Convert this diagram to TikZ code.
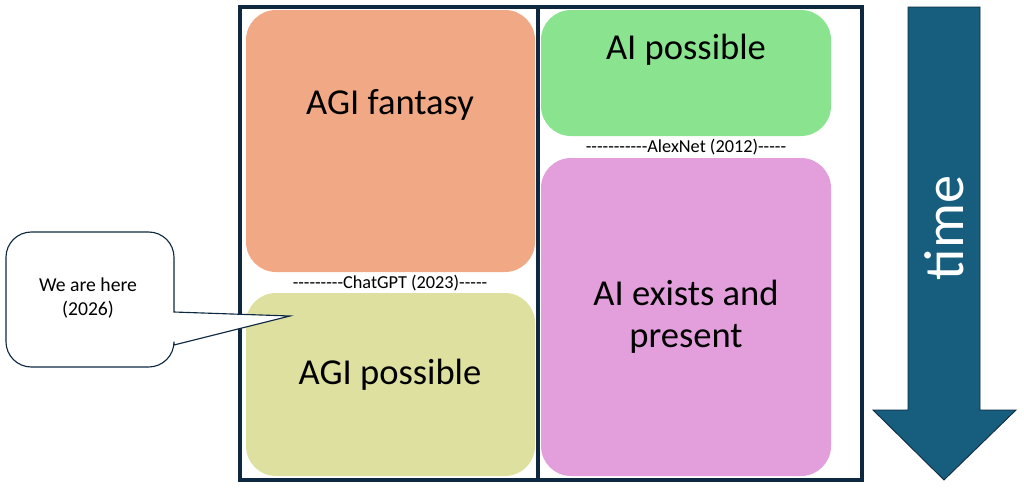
\documentclass[tikz,border=0pt]{standalone}
\usepackage{fontspec}
\setmainfont{Carlito}[Ligatures=TeXOff]
\begin{document}
\begin{tikzpicture}[x=0.025cm,y=-0.025cm,
  box/.style={rounded corners=0.75cm,draw=none},
  big/.style={font=\fontsize{26}{30}\selectfont,align=center},
  sep/.style={fill=white,inner sep=1pt,font=\fontsize{13}{15}\selectfont}]
\useasboundingbox (0,0) rectangle (1024,487);
\definecolor{navy}{HTML}{0E2841}
\definecolor{fant}{HTML}{F1A985}
\definecolor{agip}{HTML}{DDE09F}
\definecolor{aip}{HTML}{89E38F}
\definecolor{aie}{HTML}{E39FDB}
\definecolor{tarrow}{HTML}{175E7E}
\fill[box,fant] (246,10) rectangle (535,272);
\fill[box,agip] (246,293) rectangle (535,476);
\fill[box,aip] (541,10) rectangle (831,136);
\fill[box,aie] (541,158) rectangle (831,476);
\node[big] (f) at (390,105) {AGI fantasy};
\node[big] (g) at (390,375) {AGI possible};
\node[big] (p) at (686,50) {AI possible};
\node[big] (e) at (686,317) {AI exists and\\present};
\node[sep] (c) at (390,283) {---------ChatGPT (2023)-----};
\node[sep] (a) at (686,147) {-----------AlexNet (2012)-----};
\draw[navy,line width=3pt] (240,7) rectangle (862,480);
\draw[navy,line width=3pt] (538,7) -- (538,480);
\coordinate (tip) at (290,316);
\draw[navy,line width=0.8pt,fill=white] (174,312) -- (tip) -- (174,345)
  [rounded corners=18] -- (174,367) -- (6,367) -- (6,232) -- (174,232) -- (174,312) [sharp corners] -- cycle;
\node[font=\fontsize{14}{17}\selectfont,align=center] (w) at (88,298) {We are here\\(2026)};
\fill[tarrow,draw=navy,line width=0.6pt] (908,7) -- (980,7) -- (980,410) -- (1016,410) -- (944,480) -- (873,410) -- (908,410) -- cycle;
\node[white,rotate=90,font=\fontsize{40}{44}\selectfont] (t) at (944,228) {time};
\end{tikzpicture}
\end{document}
